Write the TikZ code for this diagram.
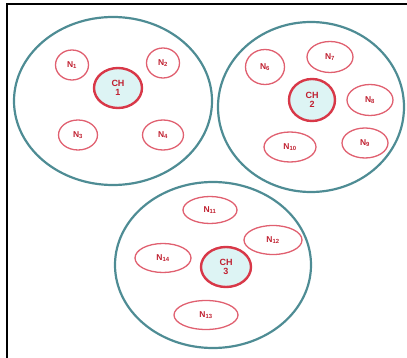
\documentclass[tikz,border=0pt]{standalone}
\usepackage{fontspec}
\setmainfont{Liberation Sans}
\usetikzlibrary{shapes.geometric}
\definecolor{clusterc}{HTML}{4E8C94}
\definecolor{nodec}{HTML}{E06070}
\definecolor{chc}{HTML}{D83848}
\definecolor{chfill}{HTML}{DDF4F4}
\definecolor{txtc}{HTML}{C02030}
\tikzset{
  cluster/.style={draw=clusterc, line width=2.2pt, ellipse, inner sep=0pt},
  member/.style={draw=nodec, line width=1.3pt, ellipse, inner sep=0pt, font=\fontsize{8.5}{9}\selectfont\bfseries, text=txtc},
  head/.style={draw=chc, line width=2.4pt, ellipse, fill=chfill, inner sep=0pt, align=center, font=\fontsize{9}{8.5}\selectfont\bfseries, text=txtc},
  frame/.style={draw=black, line width=2.2pt}
}
\newcommand{\nl}[1]{N\textsubscript{#1}}
\begin{document}
\begin{tikzpicture}[x=1pt,y=-1pt]
\useasboundingbox (0,0) rectangle (407,358);
\coordinate (tl) at (7,4);
\coordinate (tr) at (407,4);
\coordinate (bl) at (7,358);
\draw[frame] (bl) -- (tl) -- (tr);
% clusters
\node[cluster, minimum width=198pt, minimum height=168pt] (c1) at (113,101) {};
\node[cluster, minimum width=186pt, minimum height=170pt] (c2) at (311,107) {};
\node[cluster, minimum width=196pt, minimum height=166pt] (c3) at (213,265) {};
% cluster 1
\node[head, minimum width=48pt, minimum height=40pt] (ch1) at (118,88) {CH\\1};
\node[member, minimum width=33pt, minimum height=30pt] (n1) at (72,65) {\nl{1}};
\node[member, minimum width=33pt, minimum height=30pt] (n2) at (163,63) {\nl{2}};
\node[member, minimum width=39pt, minimum height=30pt] (n3) at (78,135) {\nl{3}};
\node[member, minimum width=41pt, minimum height=30pt] (n4) at (163,135) {\nl{4}};
% cluster 2
\node[head, minimum width=46pt, minimum height=42pt] (ch2) at (312,100) {CH\\2};
\node[member, minimum width=39pt, minimum height=35pt] (n6) at (265,67) {\nl{6}};
\node[member, minimum width=46pt, minimum height=31pt] (n7) at (330,57) {\nl{7}};
\node[member, minimum width=46pt, minimum height=31pt] (n8) at (370,100) {\nl{8}};
\node[member, minimum width=46pt, minimum height=30pt] (n9) at (365,143) {\nl{9}};
\node[member, minimum width=52pt, minimum height=30pt] (n10) at (290,147) {\nl{10}};
% cluster 3
\node[head, minimum width=50pt, minimum height=40pt] (ch3) at (226,267) {CH\\3};
\node[member, minimum width=54pt, minimum height=27pt] (n11) at (210,210) {\nl{11}};
\node[member, minimum width=58pt, minimum height=29pt] (n12) at (273,240) {\nl{12}};
\node[member, minimum width=64pt, minimum height=29pt] (n13) at (206,315) {\nl{13}};
\node[member, minimum width=56pt, minimum height=29pt] (n14) at (163,258) {\nl{14}};
\end{tikzpicture}
\end{document}
